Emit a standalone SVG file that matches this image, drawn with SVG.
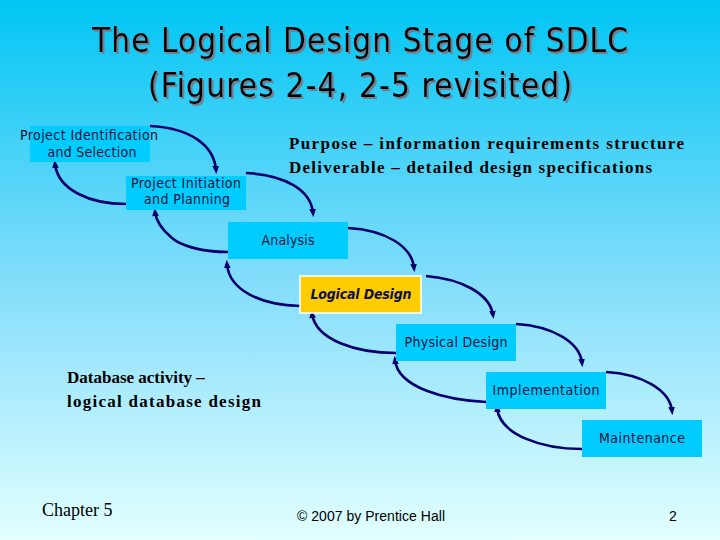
<svg xmlns="http://www.w3.org/2000/svg" width="720" height="540" viewBox="0 0 720 540">
<defs>
<linearGradient id="bg" x1="0" y1="0" x2="0" y2="1">
<stop offset="0" stop-color="#00c6f4"/>
<stop offset="0.5" stop-color="#7fdcfb"/>
<stop offset="1" stop-color="#e2ffff"/>
</linearGradient>
<filter id="sh" x="-5%" y="-20%" width="110%" height="140%">
<feDropShadow dx="2" dy="2" stdDeviation="0.3" flood-color="#6f8090" flood-opacity="1"/>
</filter>
<marker id="ah" viewBox="0 0 10 10" refX="5" refY="5" markerWidth="3.2" markerHeight="3.2" orient="auto">
<path d="M0,1 L10,5 L0,9 Z" fill="#00006e"/>
</marker>
<style>
.box{fill:#00ccff;}
.lbl{font-family:"DejaVu Sans Condensed","DejaVu Sans",sans-serif;font-size:14px;fill:#10103a;text-anchor:middle;}
.con{fill:none;stroke:#00006e;stroke-width:2.6;marker-end:url(#ah);}
.serif{font-family:"Liberation Serif",serif;font-size:17px;font-weight:bold;fill:#000;}
.title{font-family:"DejaVu Sans Condensed","DejaVu Sans",sans-serif;font-size:33px;text-anchor:middle;fill:#000;filter:url(#sh);}
</style>
</defs>
<rect width="720" height="540" fill="url(#bg)"/>
<g id="title">
<text class="title" x="360" y="52" textLength="536">The Logical Design Stage of SDLC</text>
<text class="title" x="360" y="97" textLength="424">(Figures 2-4, 2-5 revisited)</text>
</g>
<g id="connectors">
<path class="con" d="M150,126 C190,128 214,145 216,170"/>
<path class="con" d="M246,173 C285,175 311,190 313,213"/>
<path class="con" d="M348,228 C385,230 412,246 414,268"/>
<path class="con" d="M426,276 C462,279 490,294 493,315"/>
<path class="con" d="M516,324 C552,326 580,342 582,363"/>
<path class="con" d="M606,372 C642,374 670,390 672,411"/>
<path class="con" d="M126,204 C90,204 58,190 55,164"/>
<path class="con" d="M228,252 C200,252 180,245 172,238 C160,228 156,220 155,212"/>
<path class="con" d="M300,306 C260,305 229,290 227,264"/>
<path class="con" d="M396,353 C356,353 316,340 312,314"/>
<path class="con" d="M486,402 C446,400 398,388 395,360"/>
<path class="con" d="M582,449 C542,449 500,435 497,408"/>
</g>
<g id="n-identification">
<rect class="box" x="30" y="126" width="120" height="36"/>
<text class="lbl" x="89" y="140" textLength="138">Project Identification</text>
<text class="lbl" x="92" y="157" textLength="89">and Selection</text>
</g>
<g id="n-initiation">
<rect class="box" x="126" y="176" width="120" height="34"/>
<text class="lbl" x="186" y="188" textLength="110">Project Initiation</text>
<text class="lbl" x="187" y="204" textLength="86">and Planning</text>
</g>
<g id="n-analysis">
<rect class="box" x="228" y="222" width="120" height="37"/>
<text class="lbl" x="288" y="245" textLength="53">Analysis</text>
</g>
<g id="n-logical">
<rect x="300" y="276" width="121" height="37" fill="#ffcc00" stroke="#ffffff" stroke-width="1.5"/>
<text class="lbl" x="361" y="299" font-weight="bold" font-style="italic" fill="#333300" textLength="101">Logical Design</text>
</g>
<g id="n-physical">
<rect class="box" x="396" y="324" width="120" height="37"/>
<text class="lbl" x="456" y="347" textLength="103">Physical Design</text>
</g>
<g id="n-implementation">
<rect class="box" x="486" y="372" width="120" height="37"/>
<text class="lbl" x="546" y="395" textLength="107">Implementation</text>
</g>
<g id="n-maintenance">
<rect class="box" x="582" y="420" width="120" height="37"/>
<text class="lbl" x="642" y="443" textLength="86">Maintenance</text>
</g>
<g id="notes">
<text class="serif" x="289" y="149" textLength="395">Purpose – information requirements structure</text>
<text class="serif" x="289" y="173" textLength="363">Deliverable – detailed design specifications</text>
<text class="serif" x="67" y="383">Database activity –</text>
<text class="serif" x="67" y="407" textLength="194">logical database design</text>
</g>
<g id="footer">
<text x="42" y="516" font-family="Liberation Serif, serif" font-size="18" fill="#000">Chapter 5</text>
<text x="297" y="521" font-family="Liberation Sans, sans-serif" font-size="14" fill="#000" textLength="148">© 2007 by Prentice Hall</text>
<text x="669" y="521" font-family="Liberation Sans, sans-serif" font-size="14" fill="#000">2</text>
</g>
</svg>
